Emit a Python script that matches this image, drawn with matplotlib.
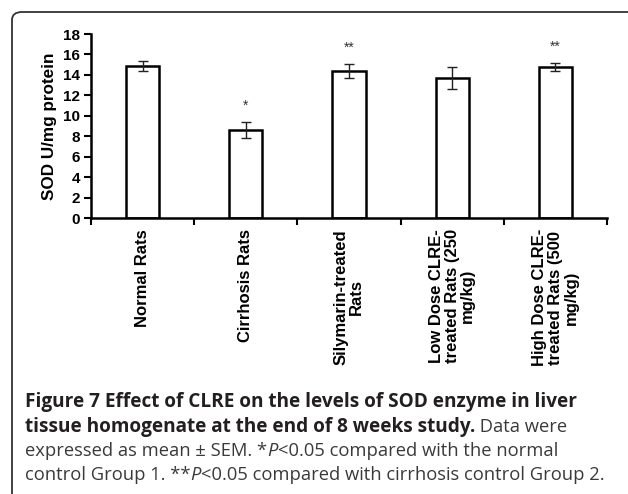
import numpy as np
import matplotlib
matplotlib.use('Agg')
import matplotlib.pyplot as plt
from matplotlib.patches import FancyBboxPatch

groups = ['Normal Rats', 'Cirrhosis Rats', 'Silymarin-treated\nRats',
          'Low Dose CLRE-\ntreated Rats (250\nmg/kg)',
          'High Dose CLRE-\ntreated Rats (500\nmg/kg)']
sod_mean = [14.9, 8.6, 14.4, 13.7, 14.8]
sod_sem = [0.5, 0.8, 0.7, 1.1, 0.4]
marks = ['', '*', '**', '', '**']
yticks = list(range(0, 19, 2))

plt.rcParams['font.family'] = ['Liberation Sans', 'DejaVu Sans']

W, H = 628, 494
fig = plt.figure(figsize=(W / 100, H / 100), dpi=100)

# rounded frame, cut off at right and bottom
box = FancyBboxPatch((12 / W, -0.2), 1.2, 1 - 12 / H + 0.2,
                     boxstyle='round,pad=0,rounding_size=0.016',
                     transform=fig.transFigure, fill=False,
                     edgecolor='#333333', linewidth=1.3, clip_on=False)
fig.patches.append(box)

ax = fig.add_axes([91 / W, 1 - 218 / H, (607 - 91) / W, (218 - 34) / H])
x = np.arange(len(groups))
ax.bar(x, sod_mean, width=0.32, color='white', edgecolor='black', linewidth=1.8, zorder=2)
ax.errorbar(x, sod_mean, yerr=sod_sem, fmt='none', ecolor='#222222',
            elinewidth=1.0, capsize=3.5, capthick=1.0, zorder=3)
for xi, m, v, e in zip(x, marks, sod_mean, sod_sem):
    if m:
        ax.text(xi, v + e + 0.9, m, ha='center', va='bottom', fontsize=10, color='#333333')

ax.set_xlim(-0.5, len(groups) - 0.5)
ax.set_ylim(0, 18)
ax.set_yticks(yticks)
ax.set_yticklabels([str(t) for t in yticks], fontsize=11, fontweight='bold')
ax.set_xticks(x)
ax.set_xticklabels(groups, rotation=90, fontsize=12, fontweight='bold',
                   ha='center', va='top', multialignment='center', linespacing=1.05)
ax.set_xticks(np.arange(-0.5, len(groups), 1), minor=True)
ax.tick_params(axis='x', which='major', length=0, pad=8)
ax.tick_params(axis='x', which='minor', length=5, width=1.5, direction='out')
ax.tick_params(axis='y', length=5, width=1.5, direction='out', pad=3)
for s in ['top', 'right']:
    ax.spines[s].set_visible(False)
for s in ['left', 'bottom']:
    ax.spines[s].set_linewidth(1.8)
ax.set_ylabel('SOD U/mg protein', fontsize=12.3, fontweight='bold', labelpad=4)

# caption with mixed styles
cap_font = ['Open Sans', 'DejaVu Sans']
lines = [
    [('Figure 7 Effect of CLRE on the levels of SOD enzyme in liver', 'bold', 'normal')],
    [('tissue homogenate at the end of 8 weeks study.', 'bold', 'normal'),
     (' Data were', 'normal', 'normal')],
    [('expressed as mean \u00b1 SEM. *', 'normal', 'normal'), ('P', 'normal', 'italic'),
     ('<0.05 compared with the normal', 'normal', 'normal')],
    [('control Group 1. **', 'normal', 'normal'), ('P', 'normal', 'italic'),
     ('<0.05 compared with cirrhosis control Group 2.', 'normal', 'normal')],
]
baselines = [407, 432, 456, 480]
fig.canvas.draw()
renderer = fig.canvas.get_renderer()
for parts, yb in zip(lines, baselines):
    xpos = 25
    for txt, wt, st in parts:
        size = 13.7 if wt == 'bold' else 13.2
        col = '#231f20' if wt == 'bold' else '#3a3a3a'
        t = fig.text(xpos / W, 1 - yb / H, txt, fontsize=size, fontweight=wt,
                     fontstyle=st, family=cap_font, color=col,
                     ha='left', va='baseline')
        bb = t.get_window_extent(renderer)
        xpos += bb.width

fig.savefig('out.png', dpi=100)
